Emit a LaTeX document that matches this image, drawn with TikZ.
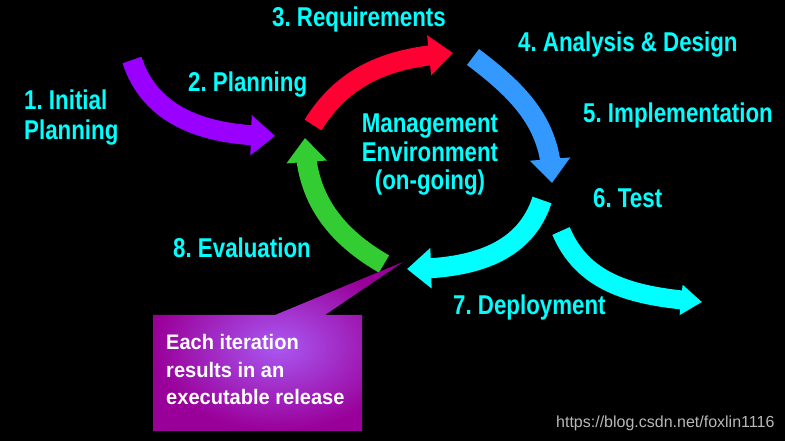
\documentclass[tikz,border=0pt]{standalone}
\usepackage{fontspec}
\setmainfont{Liberation Sans}
\newfontfamily\labfont{Liberation Sans}[FakeStretch=0.82]
\newfontfamily\boxfont{Liberation Sans}[FakeStretch=0.955]
\usetikzlibrary{arrows.meta,bending}
\frenchspacing
\definecolor{labcyan}{HTML}{00FFFF}
\definecolor{arrpurple}{HTML}{9900FF}
\definecolor{arrred}{HTML}{FF0033}
\definecolor{arrblue}{HTML}{3399FF}
\definecolor{arrgreen}{HTML}{33CC33}
\definecolor{arrcyan}{HTML}{00FFFF}
\definecolor{boxin}{HTML}{AA58F2}
\definecolor{boxout}{HTML}{990099}
\definecolor{wmgray}{HTML}{B8B8B8}
\begin{document}
\begin{tikzpicture}[x=1pt,y=1pt,
  lab/.style={anchor=base west, inner sep=0pt, text=labcyan,
    font=\labfont\bfseries\frenchspacing\fontsize{27.2}{30}\selectfont},
  labc/.style={lab, anchor=base},
  boxtext/.style={anchor=base west, inner sep=0pt, text=white,
    font=\boxfont\bfseries\fontsize{21}{27}\selectfont},
  arrow/.style={line width=20pt},
  bighead/.style={-{Triangle[width=39pt,length=24pt]}},
  smallhead/.style={-{Triangle[width=29pt,length=21pt]}}
]
\fill[black] (0,0) rectangle (785,441);
\useasboundingbox (0,0) rectangle (785,441);

% arrow end points
\coordinate (pT) at (132,381); \coordinate (pH) at (275,305);
\coordinate (rT) at (313,316); \coordinate (rH) at (453,388);
\coordinate (bT) at (473,384); \coordinate (bH) at (552,258);
\coordinate (cT) at (542,241); \coordinate (cH) at (407,172);
\coordinate (gT) at (384,177); \coordinate (gH) at (305,303);
\coordinate (tT) at (561,210); \coordinate (tH) at (702,139);

\draw[arrow, bighead, arrpurple] (pT) to[out=-72,in=180] (pH);
\draw[arrow, bighead, arrred] (rT) to[out=58,in=184] (rH);
\draw[arrow, bighead, arrblue] (bT) to[out=-37,in=90] (bH);
\draw[arrow, bighead, arrcyan] (cT) to[out=-108,in=0] (cH);
\draw[arrow, bighead, arrgreen] (gT) to[out=150,in=-90] (gH);
\draw[arrow, line width=19pt, smallhead, arrcyan] (tT) to[out=-67,in=175] (tH);

% labels
\node[lab] (l1a) at (24,331) {1. Initial};
\node[lab] (l1b) at (24,301) {Planning};
\node[lab] (l2) at (188,349) {2. Planning};
\node[lab] (l3) at (272,414) {3. Requirements};
\node[lab] (l4) at (518,389) {4. Analysis \& Design};
\node[lab] (l5) at (583,318) {5. Implementation};
\node[lab] (l6) at (593,233) {6. Test};
\node[lab] (l7) at (453,126) {7. Deployment};
\node[lab] (l8) at (173,183) {8. Evaluation};
\node[labc] (m1) at (430,308) {Management};
\node[labc] (m2) at (430,279) {Environment};
\node[labc] (m3) at (430,251) {(on-going)};

% callout
\shade[inner color=boxin, outer color=boxout]
  (153,10) -- (153,126) -- (275,126) -- (403,179) -- (325,126)
  -- (362,126) -- (362,10) -- cycle;
\node[boxtext] (b1) at (166,91) {Each iteration};
\node[boxtext] (b2) at (166,63) {results in an};
\node[boxtext] (b3) at (166,36) {executable release};

% watermark
\node[anchor=base west, inner sep=0pt, text=wmgray,
  font=\fontsize{16}{18}\selectfont] (wm) at (556,13)
  {https://blog.csdn.net/foxlin1116};
\end{tikzpicture}
\end{document}
